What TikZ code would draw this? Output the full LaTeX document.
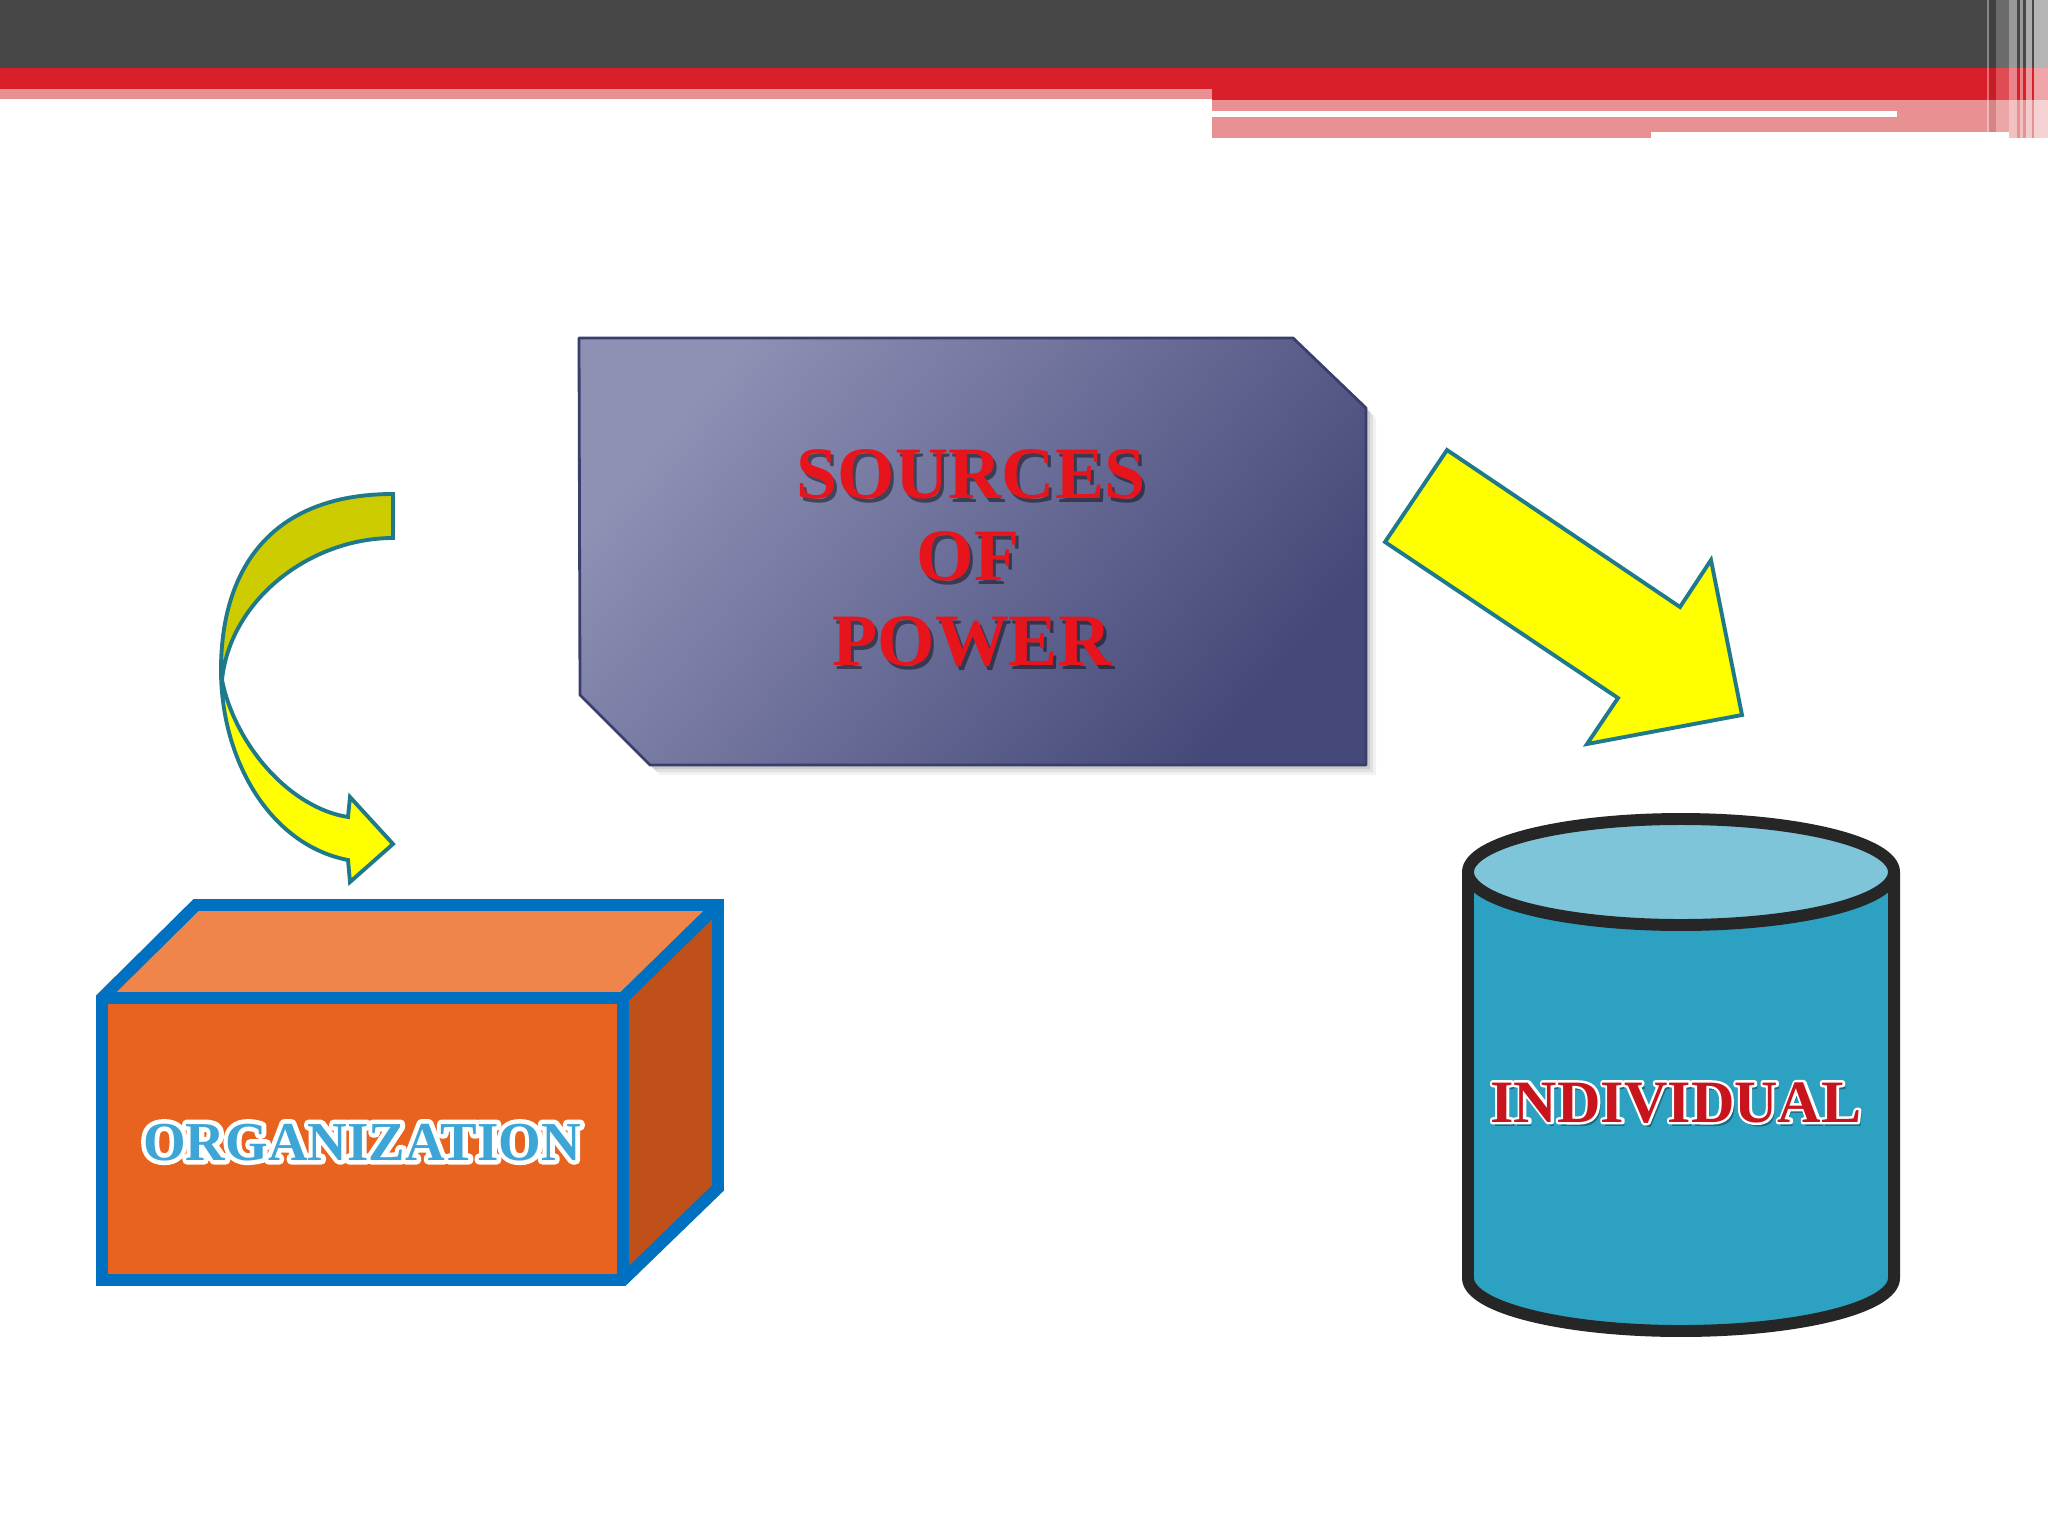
\documentclass[tikz,border=0pt]{standalone}
\usepackage{fontspec}
\setmainfont{Liberation Serif}
\usetikzlibrary{calc}
\newcommand\strokedtxt[2]{\special{pdf:literal direct 2 Tr #1 w 1 j 1 1 1 RG}#2\special{pdf:literal direct 0 Tr}}
\definecolor{topgray}{HTML}{474747}
\definecolor{barred}{HTML}{D9202A}
\definecolor{barpink}{HTML}{E89092}
\definecolor{boxlight}{HTML}{8E90B4}
\definecolor{boxdark}{HTML}{454979}
\definecolor{boxedge}{HTML}{3B3E6C}
\definecolor{arrowteal}{HTML}{1E7A8A}
\definecolor{oliveyel}{HTML}{CCCC00}
\definecolor{brightyel}{HTML}{FFFF00}
\definecolor{orgfront}{HTML}{E8641E}
\definecolor{orgtop}{HTML}{EF854A}
\definecolor{orgside}{HTML}{C0501A}
\definecolor{orgedge}{HTML}{0070C0}
\definecolor{cylbody}{HTML}{2DA1C1}
\definecolor{cyltop}{HTML}{7FC5DA}
\definecolor{cyledge}{HTML}{262626}
\definecolor{titlered}{HTML}{E8141C}
\definecolor{indred}{HTML}{C8141C}
\definecolor{orgblue}{HTML}{3DA6D6}
\tikzset{
  yelarrow/.style={draw=arrowteal, line width=1.1pt, line join=miter},
  boxline/.style={draw=orgedge, line width=3.4pt, line join=miter},
  cylline/.style={draw=cyledge, line width=3.4pt, line join=round},
  srcfont/.style={font=\fontsize{21}{24}\selectfont\bfseries, inner sep=0pt, anchor=base},
  orgfont/.style={font=\fontsize{15.6}{18}\selectfont\bfseries, inner sep=0pt, anchor=base},
  indfont/.style={font=\fontsize{17.1}{19}\selectfont\bfseries, inner sep=0pt, anchor=base},
  stripe/.style={fill=white}
}
\begin{document}
\begin{tikzpicture}[x=0.01cm,y=-0.01cm]
\useasboundingbox (0,0) rectangle (2048,1536);
\fill[white] (0,0) rectangle (2048,1536);
% ---- top bar
\fill[topgray] (0,0) rectangle (2048,68);
\fill[barred] (0,68) rectangle (1212,89);
\fill[barpink] (0,89) rectangle (1212,99);
\fill[barred] (1212,68) rectangle (2048,100);
\fill[barpink] (1212,100) rectangle (2048,132);
\fill[barpink] (1212,132) rectangle (1651,138);
\fill[barpink] (2009,132) rectangle (2048,138);
\fill[white] (1212,111) rectangle (1897,117);
\fill[stripe, opacity=0.35] (1987,0) rectangle (1989,132);
\fill[black, opacity=0.08] (1989,0) rectangle (1996,132);
\fill[stripe, opacity=0.2] (1996,0) rectangle (2009,132);
\fill[stripe, opacity=0.45] (2009,0) rectangle (2017,138);
\fill[stripe, opacity=0.45] (2020,0) rectangle (2023,138);
\fill[stripe, opacity=0.55] (2026,0) rectangle (2032,138);
\fill[stripe, opacity=0.6] (2034,0) rectangle (2048,138);
% ---- sources box
\foreach \d/\o in {10/0.05,7/0.07,4/0.09}{
  \fill[black, opacity=\o] ($(579,338)+(\d,\d)$) -- ($(1293,338)+(\d,\d)$) -- ($(1366,408)+(\d,\d)$) -- ($(1366,765)+(\d,\d)$) -- ($(650,765)+(\d,\d)$) -- ($(580,695)+(\d,\d)$) -- cycle;
}
\shade[left color=boxlight, right color=boxdark, shading angle=50]
  (579,338) -- (1293,338) -- (1366,408) -- (1366,765) -- (650,765) -- (580,695) -- cycle;
\draw[boxedge, line width=0.8pt, line join=round]
  (579,338) -- (1293,338) -- (1366,408) -- (1366,765) -- (650,765) -- (580,695) -- cycle;
\node[srcfont, text=black, opacity=0.45] (srcAsh) at (974,502) {SOURCES};
\node[srcfont, text=black, opacity=0.45] (srcBsh) at (971,584) {OF};
\node[srcfont, text=black, opacity=0.45] (srcCsh) at (975,669) {POWER};
\node[srcfont, text=titlered] (srcA) at (971,498) {SOURCES};
\node[srcfont, text=titlered] (srcB) at (968,580) {OF};
\node[srcfont, text=titlered] (srcC) at (972,665) {POWER};
% ---- curved arrow
\path[yelarrow, fill=oliveyel] (393,494) -- (393,538) .. controls (310,538) and (230,600) .. (222,680)
  -- (221,670) .. controls (221,570) and (270,494) .. (393,494) -- cycle;
\path[yelarrow, fill=brightyel] (221,670) .. controls (221,760) and (270,845) .. (348,860)
  -- (350,882) -- (393,844) -- (350,797) -- (348,817)
  .. controls (290,808) and (235,745) .. (222,680) -- cycle;
% ---- diagonal arrow
\path[yelarrow, fill=brightyel] (1447,450) -- (1680,607) -- (1711,560) -- (1742,715)
  -- (1587,744) -- (1618,698) -- (1385,542) -- cycle;
% ---- organization box
\fill[orgtop] (102,998) -- (196,905) -- (718,905) -- (623,998) -- cycle;
\fill[orgside] (623,998) -- (718,905) -- (718,1188) -- (623,1280) -- cycle;
\fill[orgfront] (102,998) rectangle (623,1280);
\draw[boxline] (102,998) -- (623,998) -- (718,905);
\draw[boxline] (623,998) -- (623,1280);
\draw[boxline] (102,998) -- (196,905) -- (718,905) -- (718,1188) -- (623,1280) -- (102,1280) -- cycle;
\node[orgfont, text=black, opacity=0.35] (orgsh) at (365,1164) {ORGANIZATION};
\node[orgfont, text=white] (orgln) at (362,1160) {\strokedtxt{2.6}{ORGANIZATION}};
\node[orgfont, text=orgblue] (org) at (362,1160) {ORGANIZATION};
% ---- cylinder
\path[cylline, fill=cylbody] (1468,872) -- (1468,1278)
  .. controls (1468,1307.3) and (1563.4,1331) .. (1681,1331)
  .. controls (1798.6,1331) and (1894,1307.3) .. (1894,1278) -- (1894,872);
\path[cylline, fill=cyltop] (1681,872) ellipse [x radius=213, y radius=53];
\node[indfont, text=black, opacity=0.35] (indsh) at (1679,1126) {INDIVIDUAL};
\node[indfont, text=white] (indln) at (1676,1122) {\strokedtxt{1.4}{INDIVIDUAL}};
\node[indfont, text=indred] (ind) at (1676,1122) {INDIVIDUAL};
\end{tikzpicture}
\end{document}
